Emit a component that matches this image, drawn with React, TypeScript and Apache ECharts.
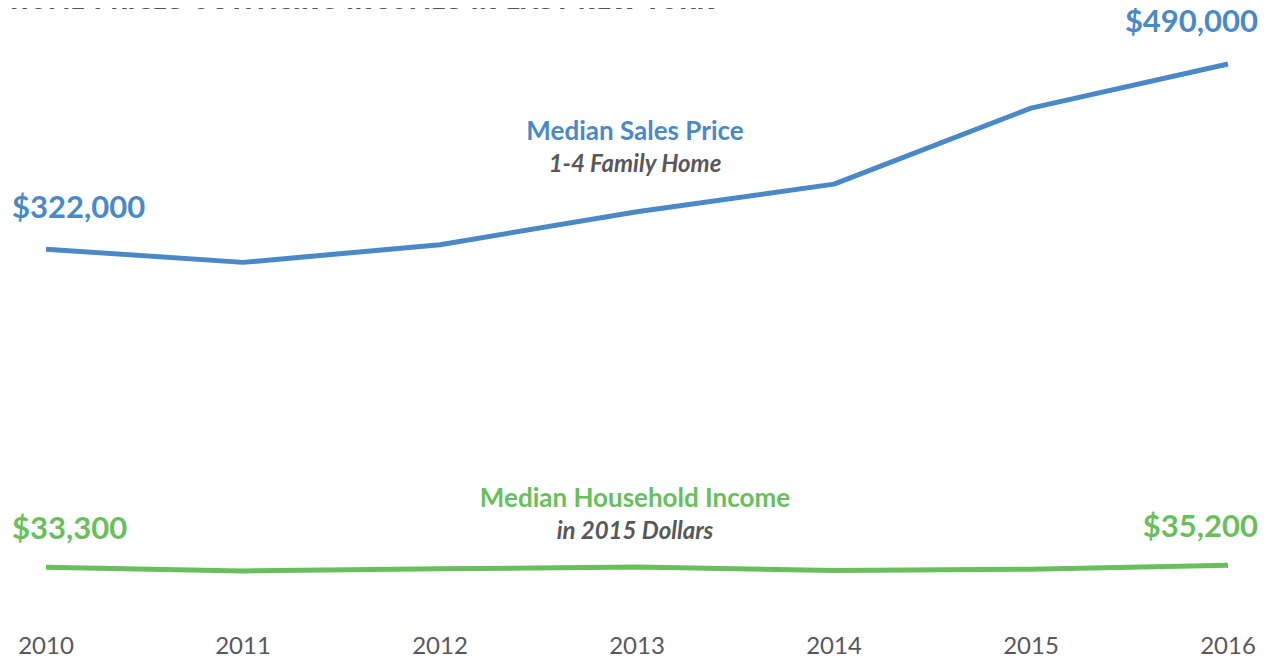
import React, { useEffect, useRef } from "react";
import * as echarts from "echarts";

const years = ["2010", "2011", "2012", "2013", "2014", "2015", "2016"];
const salesPrice = [322000, 310000, 326000, 356000, 381000, 450000, 490000];
const income = [33300, 30000, 32000, 33500, 30500, 31500, 35200];

const BLUE = "#4a89c8";
const GREEN = "#68bf5c";
const GRAY = "#58585a";
const FONT = "Lato, 'Open Sans', sans-serif";

export default function App() {
  const ref = useRef<HTMLDivElement>(null);
  useEffect(() => {
    if (!ref.current) return;
    const chart = echarts.init(ref.current, null, { renderer: "svg" });
    chart.setOption({
      animation: false,
      backgroundColor: "#ffffff",
      grid: { left: 46, right: 42, top: 53, bottom: 58 },
      xAxis: {
        type: "category",
        data: years,
        boundaryGap: false,
        axisLine: { show: false },
        axisTick: { show: false },
        axisLabel: { color: GRAY, fontSize: 24, fontFamily: FONT, margin: 28 },
      },
      yAxis: {
        type: "value",
        min: 0,
        max: 500000,
        show: false,
        splitLine: { show: false },
      },
      series: [
        {
          type: "line",
          data: salesPrice,
          symbol: "none",
          lineStyle: { color: BLUE, width: 5 },
        },
        {
          type: "line",
          data: income,
          symbol: "none",
          lineStyle: { color: GREEN, width: 5 },
        },
      ],
      graphic: [
        { type: "text", left: 10, top: -12, style: { text: "HOME PRICES OUTPACING INCOMES IN EAST NEW YORK", fill: "#555555", font: "bold 25px 'Liberation Sans Narrow', 'DejaVu Sans Condensed', sans-serif" } },
        { type: "text", left: 12, top: 190, style: { text: "$" + salesPrice[0].toLocaleString("en-US"), fill: BLUE, font: "bold 31px " + FONT } },
        { type: "text", right: 12, top: 4, style: { text: "$" + salesPrice[6].toLocaleString("en-US"), fill: BLUE, font: "bold 31px " + FONT } },
        { type: "text", left: 12, top: 511, style: { text: "$" + income[0].toLocaleString("en-US"), fill: GREEN, font: "bold 31px " + FONT } },
        { type: "text", right: 12, top: 509, style: { text: "$" + income[6].toLocaleString("en-US"), fill: GREEN, font: "bold 31px " + FONT } },
        { type: "text", x: 635, y: 130, style: { text: "Median Sales Price", fill: BLUE, font: "bold 26px " + FONT, align: "center", verticalAlign: "middle" } },
        { type: "text", x: 635, y: 162, style: { text: "1-4 Family Home", fill: GRAY, font: "italic bold 24px " + FONT, align: "center", verticalAlign: "middle" } },
        { type: "text", x: 635, y: 497, style: { text: "Median Household Income", fill: GREEN, font: "bold 26px " + FONT, align: "center", verticalAlign: "middle" } },
        { type: "text", x: 635, y: 529, style: { text: "in 2015 Dollars", fill: GRAY, font: "italic bold 24px " + FONT, align: "center", verticalAlign: "middle" } },
      ],
    });
    return () => chart.dispose();
  }, []);
  return <div ref={ref} style={{ width: 1270, height: 662, margin: -8 }} />;
}
